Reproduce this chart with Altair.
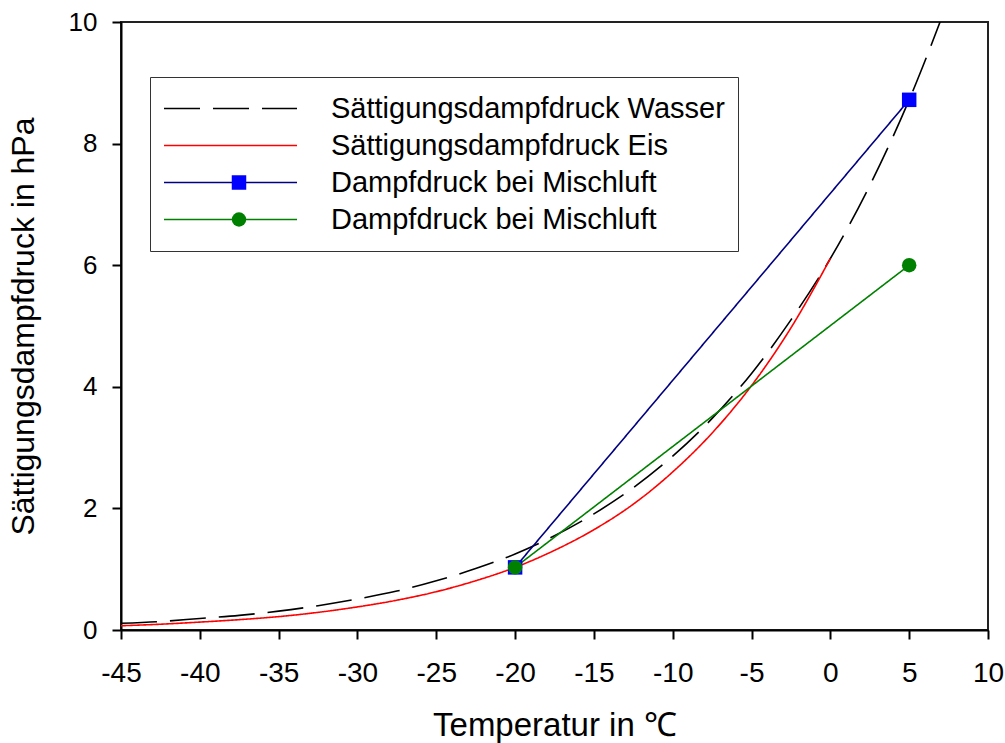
import altair as alt
import pandas as pd

# ---- data ----
water_t = [-45, -42.5, -40, -37.5, -35, -32.5, -30, -27.5, -25, -22.5, -20,
           -17.5, -15, -12.5, -10, -7.5, -5, -2.5, 0, 2.5, 5, 7.5]
water_p = [0.11, 0.14, 0.19, 0.24, 0.31, 0.40, 0.51, 0.64, 0.81, 1.01, 1.25,
           1.55, 1.91, 2.34, 2.86, 3.48, 4.22, 5.10, 6.11, 7.31, 8.72, 10.37]

ice_t = [-45, -42.5, -40, -37.5, -35, -32.5, -30, -27.5, -25, -22.5, -20,
         -17.5, -15, -12.5, -10, -7.5, -5, -2.5, 0]
ice_p = [0.07, 0.095, 0.13, 0.17, 0.22, 0.29, 0.38, 0.49, 0.63, 0.81, 1.03,
         1.31, 1.65, 2.07, 2.60, 3.24, 4.02, 4.97, 6.11]

mix_t = [-20, 5]
mix_blue_p = [1.03, 8.72]
mix_green_p = [1.03, 6.00]

series_keys = ["wasser", "eis", "misch1", "misch2"]
series_labels = ["Sättigungsdampfdruck Wasser", "Sättigungsdampfdruck Eis",
                 "Dampfdruck bei Mischluft", "Dampfdruck bei Mischluft"]
line_colors = ["#000000", "#ff0000", "#000080", "#008000"]
line_dashes = [[36, 13], [1, 0], [1, 0], [1, 0]]

marker_keys = ["m_wasser", "m_eis", "m_misch1", "m_misch2"]
marker_fills = ["transparent", "transparent", "#0000ff", "#008000"]
marker_shapes = ["square", "square", "square", "circle"]

x_ticks = [-45, -40, -35, -30, -25, -20, -15, -10, -5, 0, 5, 10]
y_ticks = [0, 2, 4, 6, 8, 10]

# ---- tables ----
rows = []
for t, p in zip(water_t, water_p):
    rows.append({"t": t, "p": p, "key": "wasser"})
for t, p in zip(ice_t, ice_p):
    rows.append({"t": t, "p": p, "key": "eis"})
for t, p in zip(mix_t, mix_blue_p):
    rows.append({"t": t, "p": p, "key": "misch1"})
for t, p in zip(mix_t, mix_green_p):
    rows.append({"t": t, "p": p, "key": "misch2"})
lines_df = pd.DataFrame(rows)

prow = []
for t, p in zip(mix_t, mix_blue_p):
    prow.append({"t": t, "p": p, "mk": "m_misch1"})
for t, p in zip(mix_t, mix_green_p):
    prow.append({"t": t, "p": p, "mk": "m_misch2"})
points_df = pd.DataFrame(prow)

label_expr = " : ".join(
    f"datum.value == '{k}' ? '{lab}'" for k, lab in zip(series_keys[:-1], series_labels[:-1])
) + f" : '{series_labels[-1]}'"

FONT = "Liberation Sans"

legend_a = alt.Legend(
    title=None, orient="none", legendX=29, legendY=55,
    padding=13, strokeColor="#333333", fillColor="white",
    symbolType="stroke", symbolSize=133 * 133, symbolStrokeWidth=1.5,
    labelFontSize=29, labelFont=FONT, labelColor="black", labelOffset=33,
    clipHeight=37, rowPadding=0, labelExpr=label_expr, labelLimit=0,
)
legend_b = alt.Legend(
    title=None, orient="none", legendX=90.5, legendY=55,
    padding=13, symbolSize=210, symbolStrokeWidth=0,
    labelFontSize=29, labelFont=FONT, labelExpr="''",
    clipHeight=37, rowPadding=0,
)

x_enc = alt.X("t:Q", scale=alt.Scale(domain=[-45, 10], nice=False, zero=False),
              axis=alt.Axis(values=x_ticks, title="Temperatur in ℃", grid=False,
                            tickSize=9, labelPadding=20, labelFontSize=28,
                            labelExpr="'' + datum.value", labelFlush=False,
                            titleFontSize=33, titlePadding=22))
y_enc = alt.Y("p:Q", scale=alt.Scale(domain=[0, 10], nice=False),
              axis=alt.Axis(values=y_ticks, title="Sättigungsdampfdruck in hPa", grid=False,
                            tickSize=9, labelPadding=15, labelFontSize=26,
                            labelExpr="'' + datum.value", labelFlush=False,
                            titleFontSize=32, titlePadding=28))

lines = alt.Chart(lines_df).mark_line(strokeWidth=1.6, clip=True, interpolate="monotone").encode(
    x=x_enc, y=y_enc,
    color=alt.Color("key:N", scale=alt.Scale(domain=series_keys, range=line_colors), legend=legend_a),
    strokeDash=alt.StrokeDash("key:N", scale=alt.Scale(domain=series_keys, range=line_dashes), legend=legend_a),
)

points = alt.Chart(points_df).mark_point(filled=True, opacity=1, size=210, strokeWidth=0).encode(
    x="t:Q", y="p:Q",
    fill=alt.Fill("mk:N", scale=alt.Scale(domain=marker_keys, range=marker_fills), legend=legend_b),
    shape=alt.Shape("mk:N", scale=alt.Scale(domain=marker_keys, range=marker_shapes), legend=legend_b),
)

chart = alt.layer(lines, points).properties(
    width=867, height=608,
    autosize=alt.AutoSizeParams(type="none"),
    padding={"left": 121, "top": 22, "right": 17, "bottom": 113},
).configure(
    font=FONT, background="white",
).configure_view(
    stroke="#222222", strokeWidth=2,
).configure_axis(
    domainColor="black", domainWidth=2, tickColor="black", tickWidth=2,
    labelColor="black", titleColor="black", labelFont=FONT, titleFont=FONT,
    titleFontWeight="normal",
)

chart.save("out.html", embed_options={"renderer": "svg", "actions": False})
